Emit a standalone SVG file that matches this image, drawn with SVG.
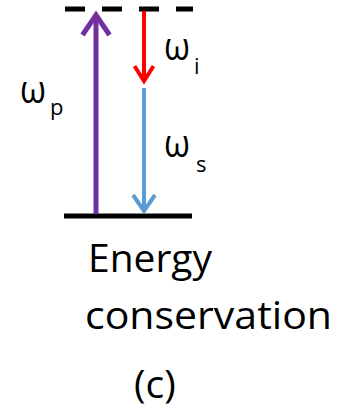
<svg xmlns="http://www.w3.org/2000/svg" width="352" height="413" viewBox="0 0 352 413">
<style>
  .lvl { stroke: #000; stroke-width: 5; fill: none; }
  .t { font-family: "Open Sans", "Liberation Sans", sans-serif; fill: #000; }
  .big { font-size: 39px; }
  .w { font-size: 39px; }
  .sub { font-size: 22px; }
</style>
<defs>
  <marker id="hp" markerUnits="userSpaceOnUse" viewBox="-25 -16 30 32" refX="0" refY="0" markerWidth="30" markerHeight="32" orient="auto" overflow="visible">
    <path d="M-20,-13.5 L0,0 L-20,13.5" fill="none" stroke="#7030A0" stroke-width="5" stroke-linejoin="miter"/>
  </marker>
  <marker id="hr" markerUnits="userSpaceOnUse" viewBox="-20 -12 24 24" refX="0" refY="0" markerWidth="24" markerHeight="24" orient="auto" overflow="visible">
    <path d="M-15,-9.5 L0,0 L-15,9.5" fill="none" stroke="#FF0000" stroke-width="4"/>
  </marker>
  <marker id="hb" markerUnits="userSpaceOnUse" viewBox="-20 -13 24 26" refX="0" refY="0" markerWidth="24" markerHeight="26" orient="auto" overflow="visible">
    <path d="M-16,-11 L0,0 L-16,11" fill="none" stroke="#5B9BD5" stroke-width="4"/>
  </marker>
</defs>

<g id="level-top">
  <line class="lvl" x1="65" y1="9" x2="193" y2="9" stroke-dasharray="20 17"/>
</g>
<g id="level-bottom">
  <line class="lvl" x1="64" y1="216" x2="192" y2="216"/>
</g>

<g id="connectors">
  <line id="pump" x1="96" y1="214" x2="96" y2="15" stroke="#7030A0" stroke-width="5" marker-end="url(#hp)"/>
  <line id="idler" x1="144" y1="11" x2="144" y2="81" stroke="#FF0000" stroke-width="4" marker-end="url(#hr)"/>
  <line id="signal" x1="144" y1="88" x2="144" y2="211" stroke="#5B9BD5" stroke-width="4" marker-end="url(#hb)"/>
</g>

<g id="label-wp">
  <text class="t w" x="20" y="103" textLength="26" lengthAdjust="spacingAndGlyphs">ω</text>
  <text class="t sub" x="50" y="115">p</text>
</g>
<g id="label-wi">
  <text class="t w" x="164" y="60" textLength="26" lengthAdjust="spacingAndGlyphs">ω</text>
  <text class="t sub" x="194" y="74">i</text>
</g>
<g id="label-ws">
  <text class="t w" x="164" y="157" textLength="26" lengthAdjust="spacingAndGlyphs">ω</text>
  <text class="t sub" x="196" y="172">s</text>
</g>

<g id="caption">
  <text class="t big" x="88" y="272" textLength="124" lengthAdjust="spacingAndGlyphs">Energy</text>
  <text class="t big" x="85" y="329" textLength="247" lengthAdjust="spacingAndGlyphs">conservation</text>
  <text class="t big" x="134" y="398">(c)</text>
</g>
</svg>
